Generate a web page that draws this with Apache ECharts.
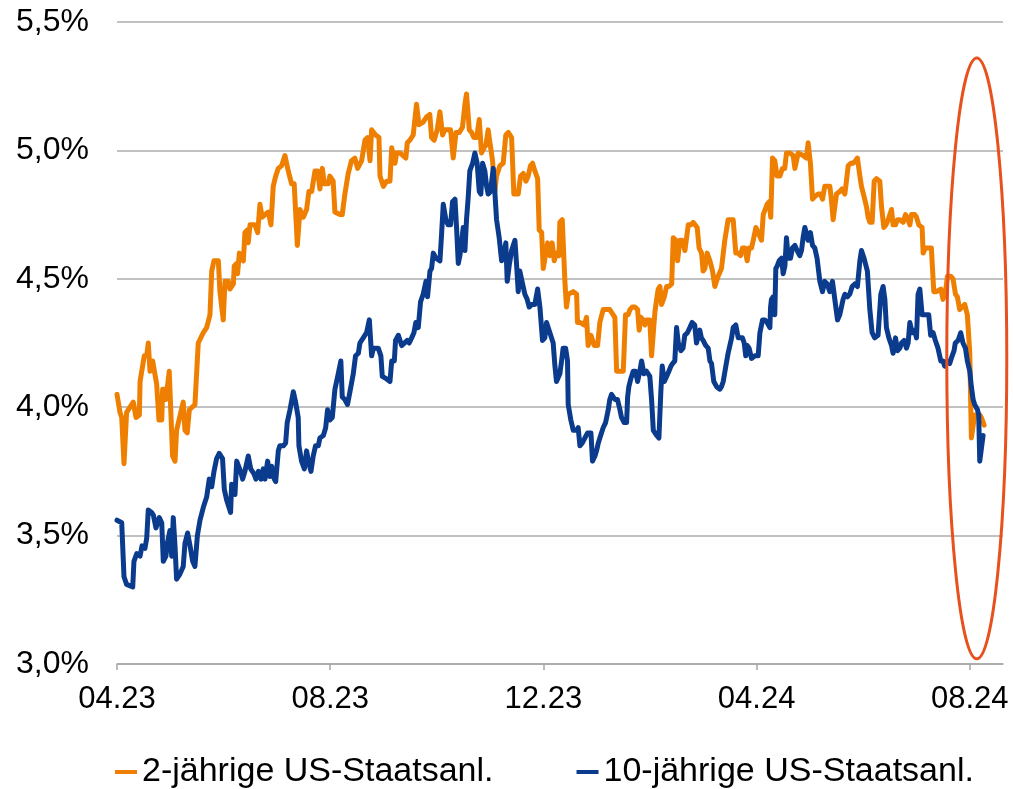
<!DOCTYPE html>
<html>
<head>
<meta charset="utf-8">
<title>Rendite US-Staatsanleihen</title>
<script src="https://cdn.jsdelivr.net/npm/echarts@6/dist/echarts.min.js"></script>
<style>
  html, body { margin: 0; padding: 0; background: #fff; }
  #main { width: 1013px; height: 789px; }
</style>
</head>
<body>
<div id="main"></div>
<script>
// x values are calendar days since 01.04.2023
var seriesNames = ['2-jährige US-Staatsanl.', '10-jährige US-Staatsanl.'];

var days2y = [0,1.7,2.7,4.0,5.5,9.3,10.9,12.8,13.2,15.6,17.0,17.9,18.9,20.4,22.7,24.0,25.6,26.1,27.5,28.0,29.9,31.8,33.2,34.1,37.9,38.9,40.2,41.4,44.6,46.5,49.4,51.3,52.3,53.2,54.2,55.5,58.0,58.9,60.8,61.8,63.7,64.6,66.6,67.1,68.5,69.0,70.0,71.3,72.3,73.2,74.6,75.1,76.1,78.9,
  80.5,81.8,83.1,86.6,88.1,89.4,90.8,92.3,94.2,96.1,98.0,99.9,101.4,103.2,104.7,106.6,108.5,109.8,111.4,113.3,114.8,116.1,117.5,118.6,120.9,121.8,123.7,124.7,127.6,128.9,130.4,132.3,134.2,136.1,137.7,140.0,141.9,143.4,144.8,145.7,148.0,149.9,150.5,152.4,154.3,156.2,157.2,159.1,160.0,161.9,
  165.3,166.1,167.6,169.5,171.4,172.8,175.2,177.1,179.0,180.0,181.5,183.2,184.8,186.3,187.6,189.5,190.9,192.4,194.0,195.9,197.7,199.1,200.0,201.6,202.9,204.2,205.8,207.3,208.6,210.0,211.1,212.4,213.4,214.9,216.2,217.2,219.1,221.0,222.5,223.9,225.8,227.1,229.6,230.9,232.5,234.0,235.3,236.6,237.8,239.1,240.7,241.6,243.0,243.9,
  246.4,247.7,249.0,250.2,251.5,252.9,253.4,254.8,255.7,256.3,257.2,258.2,261.1,263.0,263.5,264.9,267.4,268.7,269.6,271.2,273.1,275.0,276.3,277.3,278.2,280.1,282.0,283.9,284.9,285.9,287.8,289.7,291.0,292.5,293.5,294.8,296.4,297.9,298.8,299.8,301.1,302.1,303.0,304.9,305.9,306.9,307.8,308.8,309.7,310.7,311.6,313.2,314.5,315.8,317.4,318.3,319.8,320.8,322.1,323.4,325.0,325.9,326.9,328.4,329.7,
  330.7,332.0,333.1,334.5,335.4,336.4,337.7,339.3,340.8,342.1,344.0,345.9,347.8,349.7,352.6,354.1,355.5,356.8,357.9,359.3,360.6,361.7,363.1,364.4,365.6,366.9,368.8,369.8,370.7,372.0,373.2,374.1,375.1,376.4,377.7,379.3,380.8,382.1,383.1,385.0,386.9,387.9,388.8,389.8,390.7,392.6,394.5,395.5,396.8,398.0,399.3,401.2,402.6,403.7,405.0,406.4,407.9,408.8,409.8,
  411.7,413.6,414.9,416.5,417.4,418.4,419.9,421.2,422.6,423.7,425.1,426.0,427.5,428.9,429.8,430.8,432.1,433.3,434.6,436.5,437.5,438.8,440.0,441.3,443.2,444.1,445.5,446.6,448.0,449.9,451.2,452.7,453.7,454.6,456.5,457.5,458.8,460.7,461.3,462.6,464.1,466.0,467.4,468.9,471.4,472.7,474.1,475.2,477.1,478.4,479.8,480.9,482.2,483.6,485.1,486.6,488.0,488.9,489.9,490.8,492.4,493.7,494.6,496.2];

var yield2y = [4.05,3.98,3.96,3.78,3.98,4.02,3.96,3.97,4.10,4.20,4.20,4.25,4.14,4.18,4.09,3.95,3.95,4.07,4.07,4.03,4.14,3.81,3.79,3.91,4.02,3.91,3.90,3.99,4.01,4.25,4.29,4.31,4.31,4.36,4.53,4.57,4.57,4.45,4.34,4.49,4.49,4.46,4.48,4.55,4.56,4.52,4.60,4.58,4.57,4.68,4.69,4.64,4.71,4.71,
  4.68,4.79,4.74,4.76,4.71,4.86,4.90,4.93,4.94,4.98,4.92,4.87,4.87,4.63,4.77,4.74,4.77,4.84,4.84,4.92,4.92,4.85,4.93,4.87,4.87,4.90,4.88,4.76,4.75,4.75,4.83,4.91,4.96,4.97,4.93,4.96,5.04,5.05,4.96,5.08,5.06,5.05,4.90,4.86,4.88,4.88,5.01,4.95,4.99,4.99,
  4.97,5.03,5.04,5.06,5.18,5.10,5.11,5.13,5.14,5.05,5.04,5.08,5.15,5.06,5.08,5.08,5.08,4.97,5.07,5.07,5.09,5.18,5.22,5.08,5.07,5.05,5.05,5.12,4.99,5.01,5.02,5.08,5.03,4.96,4.84,4.90,4.94,4.95,5.06,5.07,5.05,4.83,4.83,4.90,4.91,4.88,4.90,4.94,4.95,4.92,4.89,4.69,4.68,4.54,
  4.64,4.59,4.64,4.57,4.60,4.59,4.72,4.73,4.73,4.49,4.39,4.44,4.45,4.44,4.33,4.33,4.32,4.35,4.24,4.28,4.24,4.24,4.33,4.33,4.38,4.38,4.38,4.36,4.35,4.14,4.14,4.14,4.36,4.36,4.38,4.39,4.39,4.38,4.30,4.35,4.34,4.32,4.34,4.34,4.20,4.20,4.37,4.42,4.46,4.47,4.40,4.43,4.47,4.47,4.48,4.66,4.65,4.57,4.65,4.65,4.61,4.61,4.71,4.71,4.72,
  4.72,4.70,4.62,4.60,4.53,4.54,4.60,4.57,4.53,4.47,4.51,4.54,4.65,4.73,4.73,4.60,4.60,4.59,4.62,4.62,4.57,4.62,4.62,4.66,4.70,4.68,4.65,4.75,4.75,4.79,4.80,4.74,4.97,4.96,4.90,4.90,4.93,4.93,4.99,4.99,4.98,4.93,4.93,4.99,4.99,4.98,4.97,5.03,4.95,4.81,4.82,4.83,4.83,4.81,4.86,4.86,4.86,4.81,4.73,
  4.83,4.84,4.85,4.83,4.88,4.94,4.95,4.95,4.96,4.97,4.90,4.86,4.82,4.78,4.74,4.72,4.72,4.88,4.89,4.88,4.78,4.70,4.71,4.73,4.77,4.71,4.71,4.73,4.73,4.72,4.75,4.73,4.71,4.75,4.75,4.74,4.71,4.70,4.60,4.62,4.62,4.62,4.45,4.45,4.46,4.42,4.45,4.51,4.51,4.50,4.44,4.43,4.38,4.39,4.40,4.36,4.21,3.88,3.88,3.97,3.97,3.97,3.96,3.93];

var days10y = [0,2.7,4.0,5.5,9.0,9.7,11.3,13.2,14.3,16.0,17.0,17.9,19.8,20.8,22.3,24.2,25.6,26.5,28.0,28.8,30.3,31.3,32.2,33.2,34.1,36.0,37.9,38.9,40.4,41.8,43.3,44.6,46.0,47.5,49.4,51.3,52.8,54.2,55.5,57.0,58.5,60.4,61.4,62.7,65.0,65.6,67.5,68.5,69.4,70.7,71.9,73.2,75.1,76.5,78.4,79.5,
  80.9,82.4,83.7,84.7,86.2,87.5,88.5,90.0,90.8,92.3,93.2,95.2,96.5,97.4,99.0,100.9,102.2,103.7,104.1,105.6,107.2,108.5,109.8,111.0,112.3,113.6,115.2,116.1,118.1,119.4,120.5,121.8,123.2,124.7,126.6,128.1,128.9,130.4,131.9,133.3,135.2,136.5,138.1,139.0,140.9,142.8,144.4,145.7,146.7,149.5,151.0,151.8,154.3,156.2,157.2,158.7,159.4,161.0,162.9,
  166.1,167.2,168.6,169.9,171.0,172.4,173.7,175.2,176.8,177.7,179.1,180.0,181.0,182.5,184.8,185.7,186.7,188.2,189.5,190.9,192.0,193.4,194.3,195.3,196.2,197.2,198.1,199.1,200.0,201.0,201.9,203.5,204.8,206.1,207.3,208.2,209.2,210.5,211.5,212.4,213.7,215.3,216.2,217.2,218.7,220.1,221.4,222.5,223.3,224.4,225.8,227.7,228.6,229.6,230.5,232.1,233.4,234.7,235.9,237.2,239.1,240.7,242.0,243.5,244.8,245.8,
  249.6,250.6,251.5,253.4,254.4,255.3,256.7,257.8,258.2,259.7,261.1,263.0,263.9,264.9,266.2,267.7,269.3,271.2,272.1,273.5,274.4,275.4,276.3,277.3,278.2,279.6,281.1,282.0,283.0,284.9,286.4,287.8,288.7,290.2,291.6,292.2,292.9,294.0,295.4,296.7,297.9,299.2,300.2,301.5,303.0,304.9,305.9,306.9,308.8,310.1,311.2,312.0,313.2,314.5,315.8,317.0,317.9,319.2,320.2,321.2,322.7,323.9,324.9,326.4,327.8,329.1,330.6,
  331.6,333.5,334.4,335.4,336.9,338.3,339.3,340.2,341.5,343.1,345.0,345.9,346.9,348.4,349.7,351.7,352.6,354.1,355.5,356.4,357.9,358.9,359.8,360.6,361.7,363.1,365.0,366.9,367.9,369.4,370.7,372.0,373.6,374.0,374.5,375.5,376.4,377.0,377.8,378.9,380.3,381.2,382.2,383.1,384.1,385.4,386.5,387.9,389.2,390.7,391.7,392.6,393.6,394.5,395.5,396.8,398.0,399.3,400.6,402.2,403.7,405.0,406.4,407.9,409.4,
  412.3,413.6,415.5,416.5,418.0,419.3,420.7,422.2,423.7,425.1,426.0,427.5,429.4,430.8,432.1,433.6,435.5,437.1,438.4,439.4,440.3,441.7,443.2,444.1,445.5,446.6,448.0,448.9,450.4,451.8,452.7,453.7,455.0,456.5,457.5,458.4,459.4,460.7,462.2,464.5,465.6,467.0,468.3,469.8,471.4,472.7,473.6,475.2,476.5,477.4,479.0,479.7,481.3,482.8,484.1,485.5,486.6,488.0,488.9,489.9,490.8,492.4,493.1,493.7,494.6,495.6];

var yield10y = [3.56,3.55,3.34,3.31,3.30,3.40,3.43,3.42,3.46,3.45,3.49,3.60,3.59,3.58,3.53,3.57,3.55,3.40,3.42,3.47,3.52,3.42,3.57,3.46,3.33,3.35,3.38,3.47,3.51,3.46,3.40,3.38,3.50,3.56,3.61,3.65,3.72,3.69,3.75,3.80,3.82,3.80,3.68,3.64,3.59,3.70,3.66,3.79,3.79,3.75,3.72,3.75,3.81,3.76,3.74,3.72,
  3.75,3.72,3.76,3.72,3.79,3.73,3.77,3.72,3.71,3.83,3.85,3.85,3.86,3.94,3.99,4.06,4.02,3.96,3.85,3.79,3.76,3.83,3.78,3.75,3.81,3.85,3.85,3.88,3.89,3.92,3.99,3.95,3.96,4.07,4.13,4.18,4.04,4.03,4.01,4.06,4.13,4.20,4.21,4.25,4.27,4.29,4.34,4.20,4.23,4.23,4.20,4.12,4.11,4.10,4.18,4.18,4.26,4.28,4.24,
  4.26,4.25,4.27,4.29,4.33,4.31,4.41,4.44,4.49,4.43,4.53,4.54,4.60,4.58,4.57,4.67,4.79,4.73,4.71,4.71,4.80,4.81,4.70,4.56,4.59,4.64,4.70,4.61,4.73,4.82,4.92,4.95,4.99,4.95,4.84,4.83,4.95,4.92,4.86,4.83,4.84,4.93,4.84,4.73,4.66,4.57,4.60,4.64,4.49,4.55,4.61,4.65,4.56,4.45,4.53,4.48,4.44,4.42,4.39,4.40,4.40,4.46,4.39,4.26,4.27,4.33,
  4.25,4.16,4.10,4.13,4.18,4.23,4.23,4.18,4.01,3.95,3.91,3.91,3.92,3.85,3.86,3.88,3.90,3.90,3.79,3.81,3.83,3.86,3.88,3.88,3.92,3.94,3.99,4.03,4.05,4.03,4.03,3.99,3.96,3.94,3.94,4.04,4.08,4.11,4.14,4.14,4.10,4.14,4.18,4.13,4.14,4.12,4.03,3.91,3.89,3.88,4.06,4.16,4.10,4.12,4.14,4.16,4.17,4.18,4.31,4.25,4.22,4.23,4.28,4.29,4.31,4.33,4.32,
  4.25,4.30,4.27,4.26,4.24,4.23,4.18,4.17,4.10,4.08,4.07,4.08,4.10,4.16,4.21,4.27,4.31,4.32,4.27,4.27,4.27,4.25,4.20,4.24,4.23,4.19,4.20,4.20,4.29,4.34,4.34,4.33,4.31,4.39,4.42,4.43,4.36,4.54,4.55,4.57,4.58,4.52,4.55,4.66,4.58,4.58,4.62,4.63,4.61,4.59,4.61,4.66,4.70,4.70,4.65,4.68,4.63,4.62,4.58,4.49,4.45,4.49,4.48,4.45,4.49,
  4.34,4.36,4.42,4.44,4.43,4.44,4.47,4.48,4.47,4.57,4.61,4.58,4.53,4.38,4.29,4.27,4.28,4.44,4.47,4.42,4.31,4.27,4.24,4.21,4.27,4.22,4.23,4.25,4.26,4.23,4.25,4.33,4.29,4.30,4.27,4.44,4.46,4.36,4.36,4.36,4.28,4.29,4.26,4.23,4.18,4.18,4.16,4.18,4.17,4.19,4.22,4.25,4.26,4.29,4.25,4.23,4.18,4.14,4.08,4.03,4.01,3.99,3.97,3.79,3.79,3.89];

var xTickDays = [0, 122, 244, 366, 488];
var xTickLabels = ['04.23', '08.23', '12.23', '04.24', '08.24'];

function pairs(xs, ys) {
  return xs.map(function (x, i) { return [x, ys[i]]; });
}

var font = "'Liberation Sans', Arial, sans-serif";
var chart = echarts.init(document.getElementById('main'));

chart.setOption({
  animation: false,
  backgroundColor: '#fff',
  color: ['#EF7F00', '#0B3B8C'],
  textStyle: { fontFamily: font },
  grid: { left: 117, right: 10, top: 22, bottom: 125 },
  legend: {
    data: seriesNames,
    left: 110,
    top: 749,
    icon: 'rect',
    itemWidth: 22,
    itemHeight: 4,
    itemGap: 83,
    textStyle: { fontSize: 34, color: '#000', fontFamily: font, lineHeight: 36 }
  },
  xAxis: {
    type: 'value',
    min: 0,
    max: 507,
    splitLine: { show: false },
    axisLine: { show: true, lineStyle: { color: '#A6A6A6', width: 1.5 } },
    axisTick: { show: true, customValues: xTickDays, length: 6, lineStyle: { color: '#A6A6A6', width: 1.5 } },
    axisLabel: {
      customValues: xTickDays,
      margin: 20,
      fontSize: 31,
      color: '#000',
      fontFamily: font,
      formatter: function (v) {
        var i = xTickDays.indexOf(v);
        return i >= 0 ? xTickLabels[i] : '';
      }
    }
  },
  yAxis: {
    type: 'value',
    min: 3,
    max: 5.5,
    interval: 0.5,
    axisLine: { show: false },
    axisTick: { show: false },
    splitLine: { lineStyle: { color: '#ADADAD', width: 1.5 } },
    axisLabel: {
      margin: 28,
      fontSize: 32,
      color: '#000',
      fontFamily: font,
      formatter: function (v) { return v.toFixed(1).replace('.', ',') + '%'; }
    }
  },
  series: [
    {
      name: seriesNames[0],
      type: 'line',
      symbol: 'none',
      data: pairs(days2y, yield2y),
      lineStyle: { width: 5, color: '#EF7F00', cap: 'round', join: 'round' }
    },
    {
      name: seriesNames[1],
      type: 'line',
      symbol: 'none',
      data: pairs(days10y, yield10y),
      lineStyle: { width: 5, color: '#0B3B8C', cap: 'round', join: 'round' }
    }
  ]
});

// red ellipse marking the latest drop
var ellTop = chart.convertToPixel({ gridIndex: 0 }, [492, 5.36]);
var ellBottom = chart.convertToPixel({ gridIndex: 0 }, [492, 3.02]);
chart.setOption({
  graphic: [{
    type: 'ellipse',
    z: 100,
    shape: {
      cx: ellTop[0],
      cy: (ellTop[1] + ellBottom[1]) / 2,
      rx: 30,
      ry: (ellBottom[1] - ellTop[1]) / 2
    },
    style: { fill: 'none', stroke: '#E8501E', lineWidth: 3 }
  }]
});
</script>
</body>
</html>
